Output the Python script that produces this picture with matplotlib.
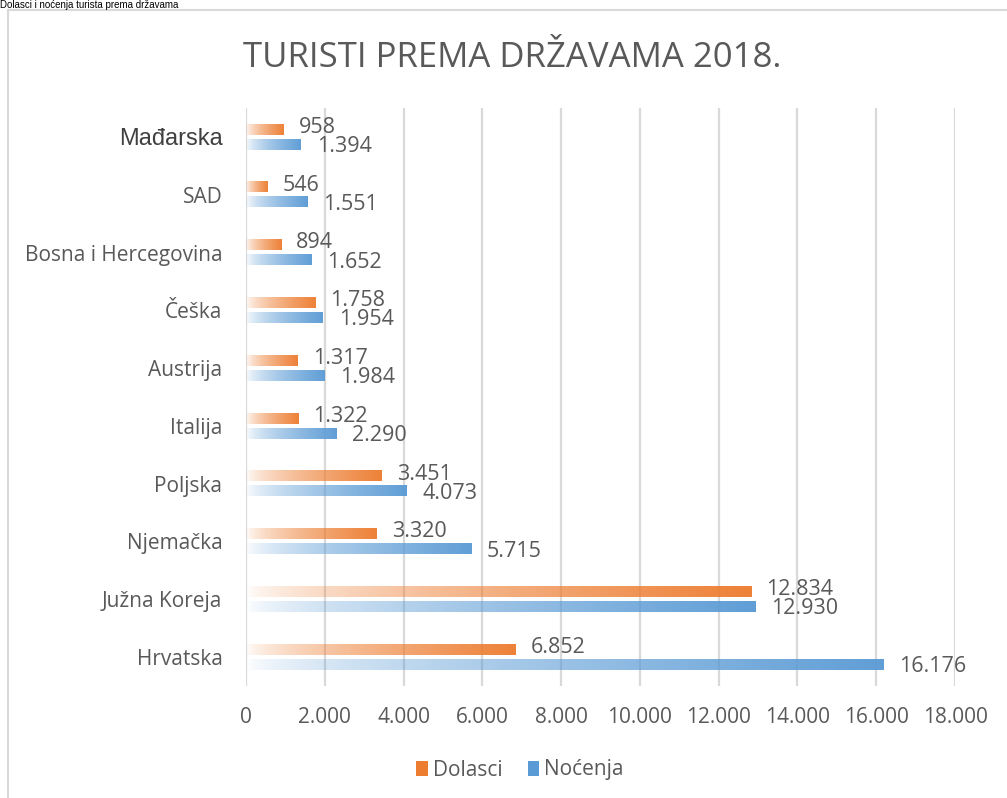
import numpy as np
import matplotlib
matplotlib.use("Agg")
import matplotlib.pyplot as plt
from matplotlib.colors import to_rgb
from matplotlib.patches import Patch, Rectangle

# Data (bottom to top)
countries = ["Hrvatska", "Južna Koreja", "Njemačka", "Poljska", "Italija",
             "Austrija", "Češka", "Bosna i Hercegovina", "SAD", "Mađarska"]
dolasci = [6852, 12834, 3320, 3451, 1322, 1317, 1758, 894, 546, 958]
nocenja = [16176, 12930, 5715, 4073, 2290, 1984, 1954, 1652, 1551, 1394]
xticks = [0, 2000, 4000, 6000, 8000, 10000, 12000, 14000, 16000, 18000]

ORANGE = "#ED7D31"
BLUE = "#5B9BD5"
GRAY = "#595959"
FONT = "Open Sans"

def fmt(v):
    return f"{v:,}".replace(",", ".")

def gradient_bar(ax, y, width, height, color):
    # horizontal gradient: almost white at left, full colour at right
    img = np.zeros((1, 256, 4))
    img[..., :3] = to_rgb(color)
    img[..., 3] = np.linspace(0.0, 1.0, 256) ** 0.65 * 0.97
    ax.imshow(img, extent=[0, width, y - height / 2, y + height / 2],
              aspect="auto", interpolation="bicubic", zorder=2)

fig = plt.figure(figsize=(10.07, 7.98), dpi=100)
W, H = 1007, 798

# outer chart frame
fig.patches.append(Rectangle((8 / W, -0.01), 1.0, 1 - 10 / H + 0.01,
                             transform=fig.transFigure, fill=False,
                             edgecolor="#D9D9D9", lw=1.5))

fig.text(0.0, 1 - 0.5 / H, "Dolasci i noćenja turista prema državama",
         fontsize=7, family="Liberation Sans", color="black",
         ha="left", va="top")

ax = fig.add_axes([246 / W, 112 / H, 709 / W, 578 / H])
y = np.arange(len(countries))
off, bh = 0.13, 0.18
for i in range(len(countries)):
    gradient_bar(ax, y[i] + off, dolasci[i], bh, ORANGE)
    gradient_bar(ax, y[i] - off, nocenja[i], bh, BLUE)
    ax.annotate(fmt(dolasci[i]), (dolasci[i], y[i] + off), xytext=(15, 2),
                textcoords="offset pixels", va="center", ha="left",
                fontsize=15.5, color=GRAY, family=FONT)
    ax.annotate(fmt(nocenja[i]), (nocenja[i], y[i] - off), xytext=(16, -2),
                textcoords="offset pixels", va="center", ha="left",
                fontsize=15.5, color=GRAY, family=FONT)

ax.set_xlim(0, 18000)
ax.set_ylim(-0.5, len(countries) - 0.5)
ax.set_xticks(xticks)
ax.set_xticklabels([fmt(t) for t in xticks], fontsize=15, color=GRAY, family=FONT)
ax.set_yticks(y)
ax.set_yticklabels(countries, fontsize=15, color=GRAY, family=FONT)
ax.tick_params(length=0, pad=17, axis="y")
ax.tick_params(length=0, pad=15, axis="x")
madj = ax.get_yticklabels()[-1]
madj.set_family("Liberation Sans")
madj.set_color("#404040")
madj.set_fontsize(17)
ax.grid(axis="x", color="#D9D9D9", lw=1.6, zorder=0)
ax.set_axisbelow(True)
for s in ax.spines.values():
    s.set_visible(False)

fig.text(512 / W, 1 - 58 / H, "TURISTI PREMA DRŽAVAMA 2018.", fontsize=25,
         color=GRAY, family=FONT, ha="center", va="center")

handles = [Patch(facecolor=ORANGE, label="Dolasci"),
           Patch(facecolor=BLUE, label="Noćenja")]
fig.legend(handles=handles, loc="center", bbox_to_anchor=(520 / W, 1 - 770 / H),
           ncol=2, frameon=False, handlelength=0.55, handleheight=0.7,
           handletextpad=0.25, columnspacing=1.2,
           prop={"family": FONT, "size": 15}, labelcolor=GRAY)

fig.savefig("out.png", dpi=100)
